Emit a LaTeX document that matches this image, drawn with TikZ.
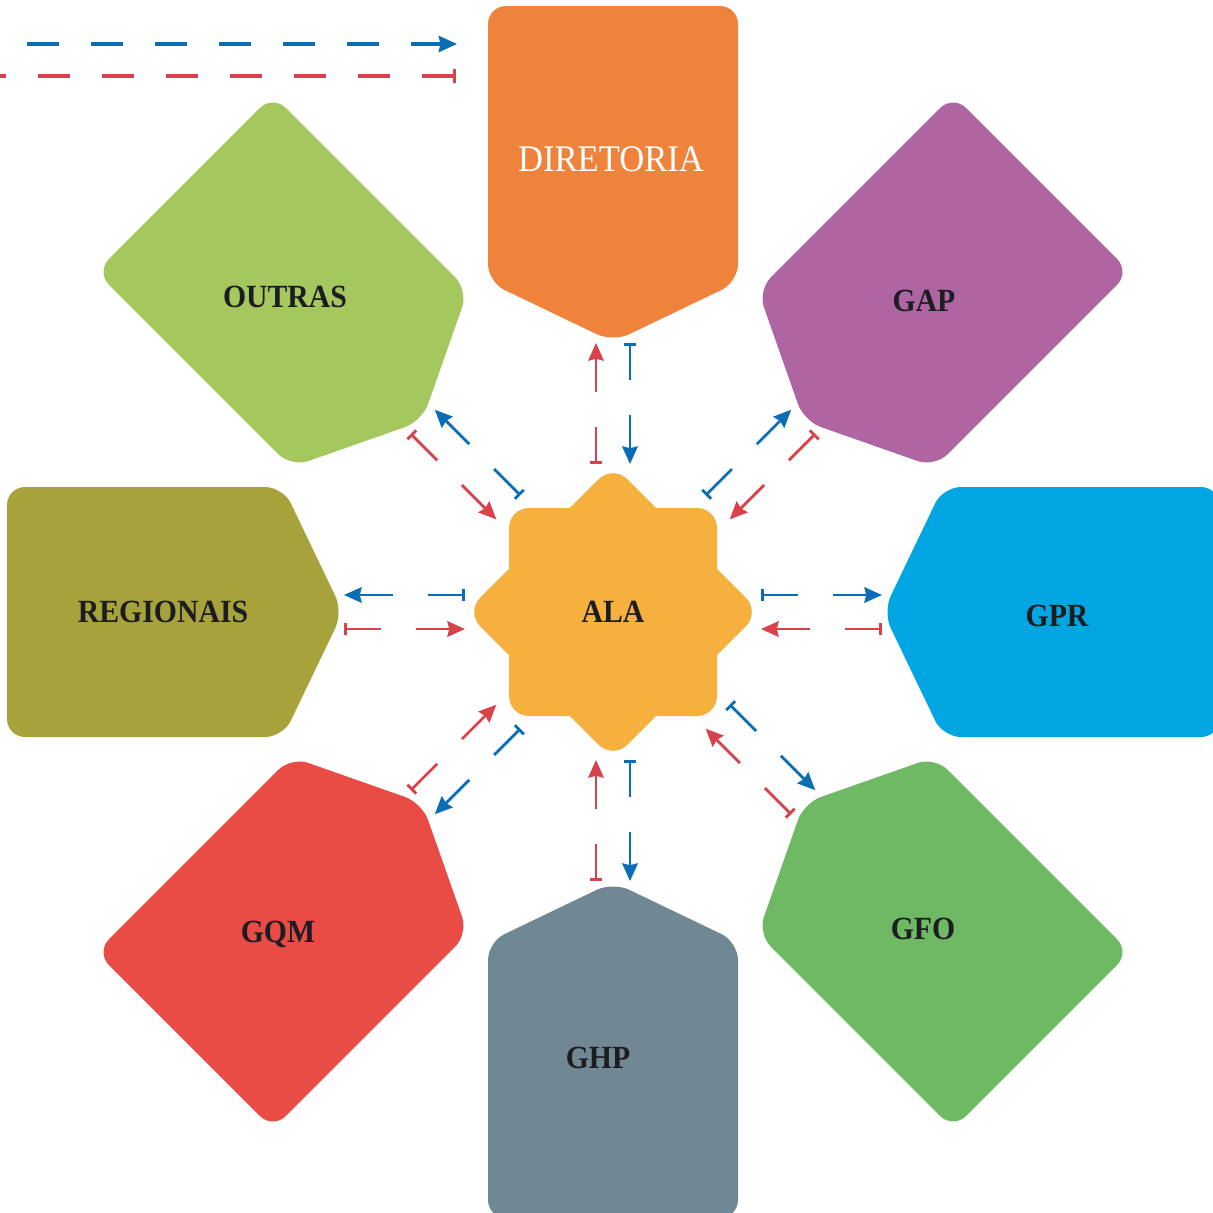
\documentclass[tikz,border=0pt]{standalone}
\usepackage{fontspec}
\setmainfont{Liberation Serif}[FakeStretch=0.92]
\usetikzlibrary{arrows.meta,calc}

\definecolor{alaorange}{HTML}{F6B03D}
\definecolor{diretoriaorange}{HTML}{EF833B}
\definecolor{gappurple}{HTML}{AF65A1}
\definecolor{gprblue}{HTML}{00A5E2}
\definecolor{gfogreen}{HTML}{6FB964}
\definecolor{ghpgrey}{HTML}{708893}
\definecolor{gqmred}{HTML}{E94B45}
\definecolor{regionaisolive}{HTML}{A7A33A}
\definecolor{outrasgreen}{HTML}{A4C85D}
\definecolor{arrowblue}{HTML}{0B6DB5}
\definecolor{arrowred}{HTML}{D8424A}
\definecolor{labeltext}{HTML}{1C1D21}

\begin{document}
\begin{tikzpicture}[line join=round]
  \useasboundingbox (0,0) rectangle (12.13,-12.12);
  \tikzset{
    block/.style={rounded corners=1.8mm},
    star/.style={fill=alaorange, minimum size=2.08cm, inner sep=0pt, rounded corners=2mm},
    lbl/.style={font=\bfseries\fontsize{9.2}{11}\selectfont, text=labeltext},
    toplbl/.style={font=\fontsize{10.7}{12}\selectfont, text=white},
    conn/.style={line width=0.8pt, dash pattern=on 10pt off 10pt,
      {Bar[width=3.6pt]}-{Stealth[length=5pt,width=4.4pt,inset=0.5pt]}},
    keyline/.style={line width=0.95pt, dash pattern=on 9.1pt off 9.1pt}
  }
  \clip (0,0) rectangle (12.13,-12.12);

  % --- centre star
  \node[star, rotate=45] (alarot) at (6.13,-6.12) {};
  \node[star, lbl] (ala) at (6.13,-6.12) {ALA};

  % --- outer blocks (same shape, turned round the centre)
  \foreach \ang/\col in {90/diretoriaorange, 45/gappurple, 0/gprblue, -45/gfogreen,
                         -90/ghpgrey, -135/gqmred, 180/regionaisolive, 135/outrasgreen}
    \fill[\col, block, shift={(ala.center)}, rotate=\ang]
      (2.70,0) -- (3.30,1.25) -- (6.06,1.25) -- (6.06,-1.25) -- (3.30,-1.25) -- cycle;

  % --- block labels
  \node[toplbl] (diretoria) at (6.11,-1.59) {DIRETORIA};
  \node[lbl] (gap)       at (9.24,-3.01)  {GAP};
  \node[lbl] (gpr)       at (10.57,-6.16) {GPR};
  \node[lbl] (gfo)       at (9.23,-9.29)  {GFO};
  \node[lbl] (ghp)       at (5.98,-10.58) {GHP};
  \node[lbl] (gqm)       at (2.78,-9.34)  {GQM};
  \node[lbl] (regionais) at (1.63,-6.12)  {REGIONAIS};
  \node[lbl] (outras)    at (2.85,-2.97)  {OUTRAS};

  % --- paired connectors (blue / red) between ALA and each block
  \foreach \ang/\nm/\s/\bs/\be in {90/dir/1/2.69/1.48, 45/gap/-1/1.48/2.69,
                                   0/gpr/-1/1.48/2.69, -45/gfo/-1/1.48/2.69,
                                   -90/ghp/-1/1.48/2.69, -135/gqm/-1/1.48/2.69,
                                   180/reg/1/1.48/2.69, 135/out/1/1.48/2.69}{
    \coordinate (\nm-b1) at ($(ala.center)+(\ang:\bs)+(\ang-90:0.17*\s)$);
    \coordinate (\nm-b2) at ($(ala.center)+(\ang:\be)+(\ang-90:0.17*\s)$);
    \coordinate (\nm-r1) at ($(ala.center)+(\ang:\be)+(\ang+90:0.17*\s)$);
    \coordinate (\nm-r2) at ($(ala.center)+(\ang:\bs)+(\ang+90:0.17*\s)$);
    \draw[conn, arrowblue] (\nm-b1) -- (\nm-b2);
    \draw[conn, arrowred]  (\nm-r1) -- (\nm-r2);
  }

  % --- key lines top left
  \coordinate (keyb1) at (0.27,-0.44);
  \coordinate (keyb2) at (4.57,-0.44);
  \coordinate (keyr1) at (4.56,-0.76);
  \coordinate (keyr2) at (0,-0.76);
  \draw[keyline, arrowblue, -{Stealth[length=5.2pt,width=4.6pt,inset=0.5pt]}] (keyb1) -- (keyb2);
  \draw[keyline, arrowred, {Bar[width=3.8pt]}-] (keyr1) -- (keyr2);
\end{tikzpicture}
\end{document}
